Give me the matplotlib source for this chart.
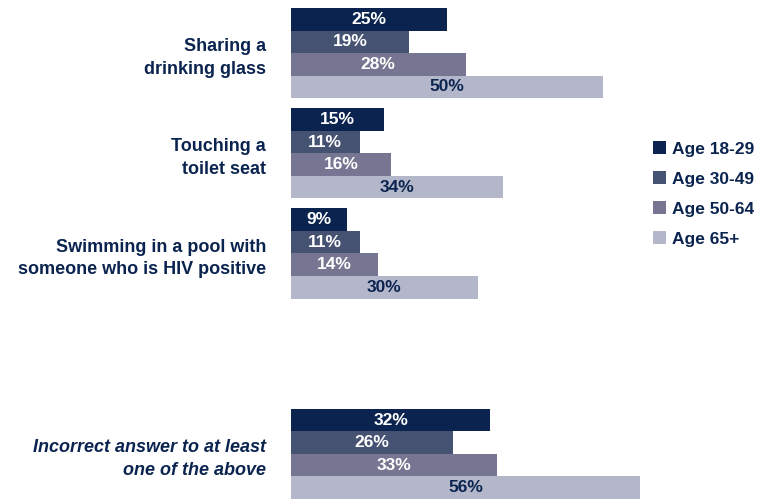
import numpy as np
import matplotlib.pyplot as plt
from matplotlib.patches import Patch

plt.rcParams['font.family'] = ['Liberation Sans', 'DejaVu Sans']

categories = ["Sharing a\ndrinking glass", "Touching a\ntoilet seat",
              "Swimming in a pool with\nsomeone who is HIV positive",
              "Incorrect answer to at least\none of the above"]
ages = ["Age 18-29", "Age 30-49", "Age 50-64", "Age 65+"]
age_18_29 = [25, 15, 9, 32]
age_30_49 = [19, 11, 11, 26]
age_50_64 = [28, 16, 14, 33]
age_65_up = [50, 34, 30, 56]

colors = ["#0B244F", "#465272", "#767692", "#B4B7CA"]
label_colors = ["white", "white", "white", "#0B244F"]
navy = "#0B244F"

series = [age_18_29, age_30_49, age_50_64, age_65_up]
# last group sits apart from the others
ypos = np.array([0, 1, 2, 4])
h = 0.225

fig = plt.figure(figsize=(7.61, 4.99), dpi=100)
ax = fig.add_axes([291 / 761, 0, 349 / 761, 1 - 8 / 499])

for i, vals in enumerate(series):
    y = ypos + (i - 1.5) * h
    ax.barh(y, vals, height=h, color=colors[i], edgecolor="none")
    for yy, v in zip(y, vals):
        ax.text(v / 2, yy, f"{v}%", ha="center", va="center",
                fontsize=12.5, fontweight="bold", color=label_colors[i])

ax.set_xlim(0, 56)
ax.set_ylim(4.45, -0.45)
ax.set_yticks(ypos)
ax.set_yticklabels(categories)
ax.tick_params(axis="y", length=0, pad=18)
ax.set_xticks([])
for i, lab in enumerate(ax.get_yticklabels()):
    lab.set_fontsize(13)
    lab.set_fontweight("bold")
    lab.set_color(navy)
    lab.set_ha("right")
    lab.set_multialignment("right")
    lab.set_linespacing(1.45)
    if i == 3:
        lab.set_fontstyle("italic")
for s in ax.spines.values():
    s.set_visible(False)

handles = [Patch(facecolor=c, edgecolor="none") for c in colors]
leg = fig.legend(handles, ages, loc="center left", bbox_to_anchor=(637 / 761, 1 - 194 / 499),
                 frameon=False, fontsize=12.5, handlelength=0.75, handleheight=0.75,
                 handletextpad=0.35, labelspacing=0.84)
for t in leg.get_texts():
    t.set_fontweight("bold")
    t.set_color(navy)

fig.savefig("out.png", dpi=100)
